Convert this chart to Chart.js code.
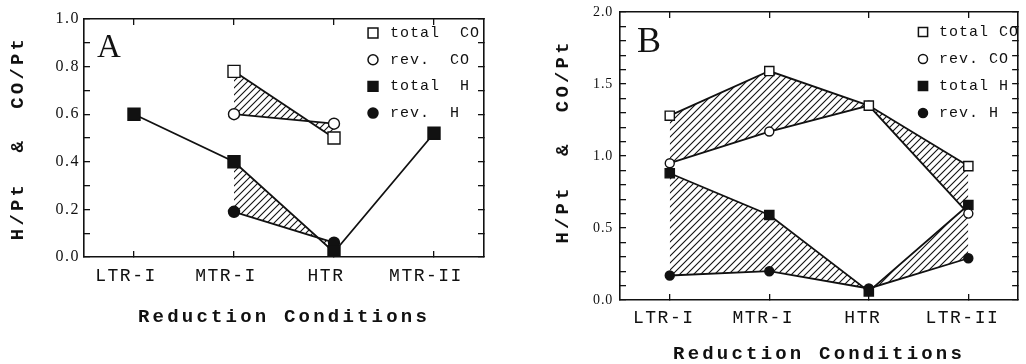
<!DOCTYPE html>
<html>
<head>
<meta charset="utf-8">
<script src="https://cdn.jsdelivr.net/npm/chart.js@4.4.1/dist/chart.umd.min.js"></script>
<style>
  html, body { margin: 0; padding: 0; background: #fff; }
  .panel { position: absolute; top: 0; width: 513px; height: 364px; }
</style>
</head>
<body>
<div class="panel" style="left:0"><canvas id="panelA" width="513" height="364"></canvas></div>
<div class="panel" style="left:513px"><canvas id="panelB" width="513" height="364"></canvas></div>
<script>
// panel A
var conditionsA = ['LTR-I', 'MTR-I', 'HTR', 'MTR-II'];
var totalCOA = [null, 0.78, 0.50, null];
var revCOA = [null, 0.60, 0.56, null];
var totalHA = [0.60, 0.40, 0.02, 0.52];
var revHA = [null, 0.19, 0.06, null];
var yLabelsA = [0, 0.2, 0.4, 0.6, 0.8, 1.0];
var legendA = ['total  CO', 'rev.  CO', 'total  H', 'rev.  H'];

// panel B
var conditionsB = ['LTR-I', 'MTR-I', 'HTR', 'LTR-II'];
var totalCOB = [1.28, 1.59, 1.35, 0.93];
var revCOB = [0.95, 1.17, 1.35, 0.60];
var totalHB = [0.88, 0.59, 0.06, 0.66];
var revHB = [0.17, 0.20, 0.08, 0.29];
var yLabelsB = [0, 0.5, 1.0, 1.5, 2.0];
var legendB = ['total CO', 'rev. CO', 'total H', 'rev. H'];

var ink = '#111';

function hatchPattern() {
    var c = document.createElement('canvas');
    c.width = 7;
    c.height = 7;
    var g = c.getContext('2d');
    g.strokeStyle = ink;
    g.lineWidth = 1.1;
    g.beginPath();
    g.moveTo(-1, 8); g.lineTo(8, -1);
    g.moveTo(-1, 1); g.lineTo(1, -1);
    g.moveTo(6, 8); g.lineTo(8, 6);
    g.stroke();
    return g.createPattern(c, 'repeat');
}
var hatch = hatchPattern();

// letter spacing for the axis titles and tick labels (the original type is wide)
function spacingPlugin(titleSp, xSp, ySp) {
    return {
        id: 'letterSpacing',
        beforeDraw: function (chart) {
            var ctx = chart.ctx;
            Object.keys(chart.scales).forEach(function (id) {
                var s = chart.scales[id];
                if (s.wrapped) return;
                s.wrapped = true;
                var drawTitle = s.drawTitle, drawLabels = s.drawLabels;
                var sp = s.isHorizontal() ? xSp : ySp;
                s.drawTitle = function () {
                    ctx.letterSpacing = titleSp;
                    drawTitle.apply(s, arguments);
                    ctx.letterSpacing = '0px';
                };
                s.drawLabels = function () {
                    ctx.letterSpacing = sp;
                    drawLabels.apply(s, arguments);
                    ctx.letterSpacing = '0px';
                };
            });
        }
    };
}

// panel letter and the legend inside the frame
function decorPlugin(p) {
    return {
        id: 'decor',
        afterDraw: function (chart) {
            var ctx = chart.ctx;
            ctx.save();
            ctx.fillStyle = ink;
            ctx.font = p.letterSize + 'px "Liberation Serif"';
            ctx.textBaseline = 'alphabetic';
            ctx.fillText(p.letter, p.letterX, p.letterY);
            ctx.font = '15px "Liberation Mono"';
            ctx.letterSpacing = '1px';
            ctx.textBaseline = 'middle';
            chart.data.datasets.forEach(function (ds, i) {
                var y = p.legendY + i * p.legendGap;
                ctx.fillStyle = ds.pointBackgroundColor;
                ctx.strokeStyle = ink;
                ctx.lineWidth = 1.5;
                Chart.helpers.drawPoint(ctx, {
                    pointStyle: ds.pointStyle,
                    radius: ds.pointStyle === 'rect' ? p.legendSq : p.legendCi,
                    borderWidth: 1.5,
                    rotation: 0
                }, p.legendX, y);
                ctx.fillStyle = ink;
                ctx.fillText(ds.label, p.legendTextX, y);
            });
            ctx.restore();
        }
    };
}

function series(label, data, style, filled, r, fill) {
    return {
        label: label,
        data: data,
        borderColor: ink,
        borderWidth: 1.8,
        pointStyle: style,
        pointRadius: r,
        pointHoverRadius: r,
        pointBackgroundColor: filled ? ink : '#fff',
        pointBorderColor: ink,
        pointBorderWidth: 1.4,
        backgroundColor: hatch,
        fill: fill,
        tension: 0
    };
}

// fixed scale sizes so the frame lands where it is in the picture
function fixSize(key, size) {
    return function (s) {
        s[key] = size;
        s.paddingTop = 0;
        s.paddingBottom = 0;
        s.paddingLeft = 0;
        s.paddingRight = 0;
    };
}

function panel(id, p) {
    var tickGrid = { drawOnChartArea: false, tickLength: -6, color: ink, lineWidth: 1.3 };
    var border = { color: ink, width: 1.6 };
    var tickLabel = function (v) {
        return p.yLabels.some(function (t) { return Math.abs(t - v) < 1e-6; }) ? v.toFixed(1) : '';
    };
    return new Chart(document.getElementById(id), {
        type: 'line',
        data: {
            labels: p.labels,
            datasets: [
                series(p.legend[0], p.totalCO, 'rect', false, p.sq, false),
                series(p.legend[1], p.revCO, 'circle', false, p.ci, '-1'),
                series(p.legend[2], p.totalH, 'rect', true, p.sq, false),
                series(p.legend[3], p.revH, 'circle', true, p.ci, '-1')
            ]
        },
        options: {
            responsive: false,
            animation: false,
            layout: { padding: p.padding },
            plugins: { legend: { display: false }, tooltip: { enabled: false } },
            scales: {
                x: {
                    type: 'category',
                    offset: true,
                    grid: tickGrid,
                    border: border,
                    ticks: { color: ink, padding: p.xTickPad, labelOffset: p.labelOffset,
                             font: { family: 'Liberation Mono', size: 18 } },
                    title: { display: true, text: 'Reduction Conditions', color: ink,
                             padding: { top: 0, bottom: p.xTitlePad },
                             font: { family: 'Liberation Mono', size: 19, weight: 'bold' } },
                    afterFit: fixSize('height', p.xHeight)
                },
                x2: {
                    type: 'category',
                    position: 'top',
                    offset: true,
                    grid: tickGrid,
                    border: border,
                    ticks: { display: false },
                    afterFit: fixSize('height', 0)
                },
                y: {
                    min: 0, max: p.yMax,
                    grid: tickGrid,
                    border: border,
                    ticks: { stepSize: 0.1, autoSkip: false, color: ink, padding: p.yTickPad,
                             font: { family: 'Liberation Serif', size: p.yFont }, callback: tickLabel },
                    title: { display: true, text: p.yTitle, color: ink,
                             padding: { top: p.yTitlePad, bottom: 0 },
                             font: { family: 'Liberation Mono', size: 19, weight: 'bold' } },
                    afterFit: fixSize('width', p.yWidth)
                },
                y2: {
                    position: 'right',
                    min: 0, max: p.yMax,
                    grid: tickGrid,
                    border: border,
                    ticks: { stepSize: 0.1, autoSkip: false, display: false },
                    afterFit: fixSize('width', 0)
                }
            }
        },
        plugins: [spacingPlugin('3.2px', '1.5px', p.ySp), decorPlugin(p)]
    });
}

panel('panelA', {
    labels: conditionsA, totalCO: totalCOA, revCO: revCOA, totalH: totalHA, revH: revHA,
    legend: legendA, yLabels: yLabelsA, yMax: 1,
    yTitle: 'H/Pt  &  CO/Pt',
    sq: 8.5, ci: 5.5,
    padding: { left: 0, right: 29, top: 19, bottom: 0 },
    yWidth: 84, xHeight: 107, yTitlePad: 6.6, xTitlePad: 35,
    yTickPad: 10, xTickPad: 14.7, labelOffset: -8, yFont: 16, ySp: '1.5px',
    letter: 'A', letterSize: 33, letterX: 97, letterY: 57,
    legendX: 373, legendY: 33, legendGap: 26.7, legendTextX: 390, legendSq: 7, legendCi: 5
});

panel('panelB', {
    labels: conditionsB, totalCO: totalCOB, revCO: revCOB, totalH: totalHB, revH: revHB,
    legend: legendB, yLabels: yLabelsB, yMax: 2,
    yTitle: '  H/Pt  &  CO/Pt',
    sq: 6.5, ci: 4.5,
    padding: { left: 0, right: 1, top: 12, bottom: 0 },
    yWidth: 107, xHeight: 64, yTitlePad: 38.6, xTitlePad: -2,
    yTickPad: 13, xTickPad: 13.2, labelOffset: -6, yFont: 14, ySp: '0.8px',
    letter: 'B', letterSize: 36, letterX: 124, letterY: 52,
    legendX: 410, legendY: 32, legendGap: 27, legendTextX: 426, legendSq: 6.5, legendCi: 4.5
});
</script>
</body>
</html>
